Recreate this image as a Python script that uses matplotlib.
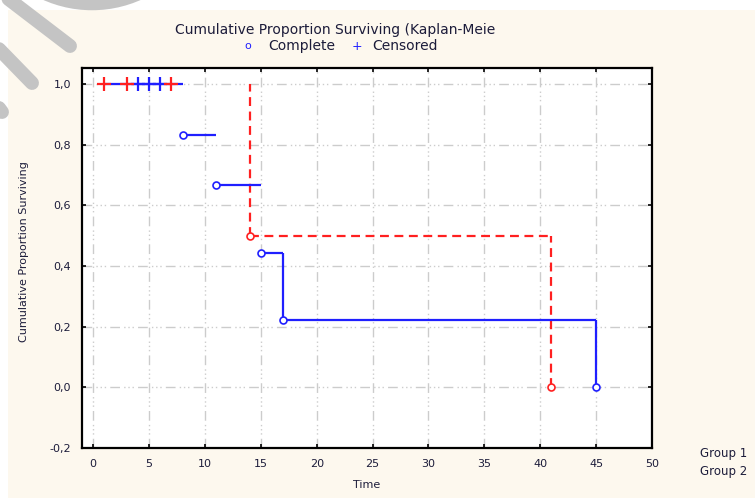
import matplotlib
matplotlib.use("Agg")
import matplotlib.pyplot as plt
from matplotlib.patches import Rectangle, Arc
from matplotlib.lines import Line2D

plt.rcParams['font.family'] = ['DejaVu Sans']

# group 1 (blue, solid)
blue_start = [1, 8, 11, 15, 17]
blue_end = [8, 11, 15, 17, 45]
blue_surv = [1.0, 0.833, 0.667, 0.444, 0.222]
blue_drop_t = [17, 45]
blue_drop_hi = [0.444, 0.222]
blue_drop_lo = [0.222, 0.0]
blue_event_t = [8, 11, 15, 17, 45]
blue_event_s = [0.833, 0.667, 0.444, 0.222, 0.0]
blue_cens_t = [4, 5, 6]
blue_cens_s = [1.0, 1.0, 1.0]

# group 2 (red, dashed)
red_start = [14]
red_end = [41]
red_surv = [0.5]
red_drop_t = [14, 41]
red_drop_hi = [1.0, 0.5]
red_drop_lo = [0.5, 0.0]
red_event_t = [14, 41]
red_event_s = [0.5, 0.0]
red_cens_t = [1, 3, 7]
red_cens_s = [1.0, 1.0, 1.0]

xticks = [0, 5, 10, 15, 20, 25, 30, 35, 40, 45, 50]
yticks = [-0.2, 0.0, 0.2, 0.4, 0.6, 0.8, 1.0]
ylabels = ['-0,2', '0,0', '0,2', '0,4', '0,6', '0,8', '1,0']

blue = '#1f1fff'
red = '#ff2020'
txt = '#1c1c3a'
cream = '#fdf8ee'
W, H = 755, 498


def px(x, y):
    # pixel position (from top-left) -> figure fraction
    return x / W, 1 - y / H


fig = plt.figure(figsize=(7.55, 4.98), dpi=100)
fig.patch.set_facecolor('white')
fig.add_artist(Rectangle((8 / W, 0), 1, 1 - 10 / H, transform=fig.transFigure,
                         facecolor=cream, edgecolor='none', zorder=-10))

# faint watermark in the corner
wm = '#c4c4c4'
for (x0, y0, x1, y1) in [(2, -6, 70, 46), (-4, 46, 32, 83), (-4, 104, 2, 112)]:
    a, b = px(x0, y0)
    c, d = px(x1, y1)
    fig.add_artist(Line2D([a, c], [b, d], transform=fig.transFigure,
                          color=wm, lw=10, solid_capstyle='round', zorder=-5))
cx, cy = px(92, -110)
fig.add_artist(Arc((cx, cy), 2 * 114 / W, 2 * 114 / H, theta1=250, theta2=290,
                   transform=fig.transFigure, color=wm, lw=9, zorder=-5))

ax = fig.add_axes([82 / W, 50 / H, 570 / W, 380 / H])
ax.set_facecolor('white')

grid_dash = (0, (7, 3, 1, 2, 1, 2, 1, 3))
for x in xticks:
    ax.axvline(x, color='#cccccc', lw=1, linestyle=grid_dash, zorder=0)
for y in yticks:
    ax.axhline(y, color='#cccccc', lw=1, linestyle=grid_dash, zorder=0)

# blue curve
ax.hlines(blue_surv, blue_start, blue_end, colors=blue, lw=1.6, zorder=3)
ax.vlines(blue_drop_t, blue_drop_lo, blue_drop_hi, colors=blue, lw=1.6, zorder=3)
ax.plot(blue_event_t, blue_event_s, 'o', ms=5, mfc='white', mec=blue, mew=1.2, zorder=4)
ax.plot(blue_cens_t, blue_cens_s, '+', ms=10, color=blue, mew=1.6, zorder=4)

# red curve
ax.hlines(red_surv, red_start, red_end, colors=red, lw=1.6, linestyles=(0, (4, 2.5)), zorder=2)
ax.vlines(red_drop_t, red_drop_lo, red_drop_hi, colors=red, lw=1.6, linestyles=(0, (4, 2.5)), zorder=2)
ax.plot(red_event_t, red_event_s, 'o', ms=5, mfc='white', mec=red, mew=1.2, zorder=4)
ax.plot(red_cens_t, red_cens_s, '+', ms=10, color=red, mew=1.6, zorder=5)

ax.set_xlim(-1, 50)
ax.set_ylim(-0.2, 1.053)
ax.set_xticks(xticks)
ax.set_xticklabels([str(v) for v in xticks])
ax.set_yticks(yticks)
ax.set_yticklabels(ylabels)
ax.tick_params(direction='in', length=3, width=1.2, top=True, right=True,
               labelsize=8, colors='black', labelcolor=txt, pad=8)
for s in ax.spines.values():
    s.set_linewidth(1.6)
    s.set_color('black')

ax.set_xlabel('Time', fontsize=8, color=txt, labelpad=8)
ax.set_ylabel('Cumulative Proportion Surviving', fontsize=8, color=txt)
ax.yaxis.set_label_coords(-0.093, 0.516)

fig.text(*px(175, 30), 'Cumulative Proportion Surviving (Kaplan-Meie',
         fontsize=10, color=txt, ha='left', va='center')
fig.text(*px(248, 46), 'o', fontsize=8, color=blue, ha='center', va='center')
fig.text(*px(268, 46), 'Complete', fontsize=10, color=txt, ha='left', va='center')
fig.text(*px(357, 46), '+', fontsize=9, color=blue, ha='center', va='center')
fig.text(*px(372, 46), 'Censored', fontsize=10, color=txt, ha='left', va='center')

fig.text(*px(700, 453), 'Group 1', fontsize=8.5, color=txt, ha='left', va='center')
fig.text(*px(700, 471), 'Group 2', fontsize=8.5, color=txt, ha='left', va='center')

fig.savefig('out.png', dpi=100, facecolor=fig.get_facecolor())
